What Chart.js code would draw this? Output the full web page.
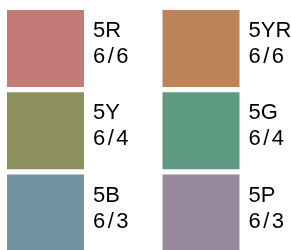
<!DOCTYPE html>
<html>
<head>
<meta charset="utf-8">
<script src="https://cdn.jsdelivr.net/npm/chart.js@4/dist/chart.umd.min.js"></script>
<style>
  html, body { margin: 0; padding: 0; background: #fff; }
  #wrap { width: 291px; height: 250px; }
</style>
</head>
<body>
<div id="wrap"><canvas id="grafico" width="291" height="250"></canvas></div>
<script>
// Munsell chips: hue, value/chroma, colour
const hues = ['5R', '5YR', '5Y', '5G', '5B', '5P'];
const chromas = ['6/6', '6/6', '6/4', '6/4', '6/3', '6/3'];
const colores = ['#c47b78', '#bd845a', '#8e9060', '#5f9b82', '#7293a0', '#98889d'];
const columnas = [0, 1, 0, 1, 0, 1];
const filas = [0, 0, 1, 1, 2, 2];

const lado = 77; // square side in px

// draw hue + value/chroma text next to each square
const etiquetas = {
  id: 'etiquetas',
  afterDatasetsDraw(chart) {
    const ctx = chart.ctx;
    const meta = chart.getDatasetMeta(0);
    ctx.save();
    ctx.fillStyle = '#000';
    ctx.font = '22px "Liberation Sans", Arial, sans-serif';
    ctx.textAlign = 'left';
    ctx.textBaseline = 'alphabetic';
    meta.data.forEach((p, i) => {
      const x = p.x + lado / 2 + 9;
      ctx.letterSpacing = '0px';
      ctx.fillText(hues[i], x, p.y - 11.5);
      ctx.letterSpacing = '2.5px'; // slash is spaced out in the original
      ctx.fillText(chromas[i], x, p.y + 14.5);
    });
    ctx.restore();
  }
};

new Chart(document.getElementById('grafico'), {
  type: 'scatter',
  data: {
    datasets: [{
      data: columnas.map((c, i) => ({ x: c, y: filas[i] })),
      backgroundColor: colores,
      borderWidth: 0,
      pointStyle: 'rect',
      pointRadius: lado / Math.SQRT2,
      pointHoverRadius: lado / Math.SQRT2,
      clip: false
    }]
  },
  options: {
    responsive: false,
    animation: false,
    layout: { padding: 0, autoPadding: false },
    plugins: { legend: { display: false }, tooltip: { enabled: false } },
    scales: {
      x: { type: 'linear', display: false, min: -0.2926, max: 1.5788 },
      y: { type: 'linear', display: false, reverse: true, min: -0.5897, max: 2.4498 }
    }
  },
  plugins: [etiquetas]
});
</script>
</body>
</html>
